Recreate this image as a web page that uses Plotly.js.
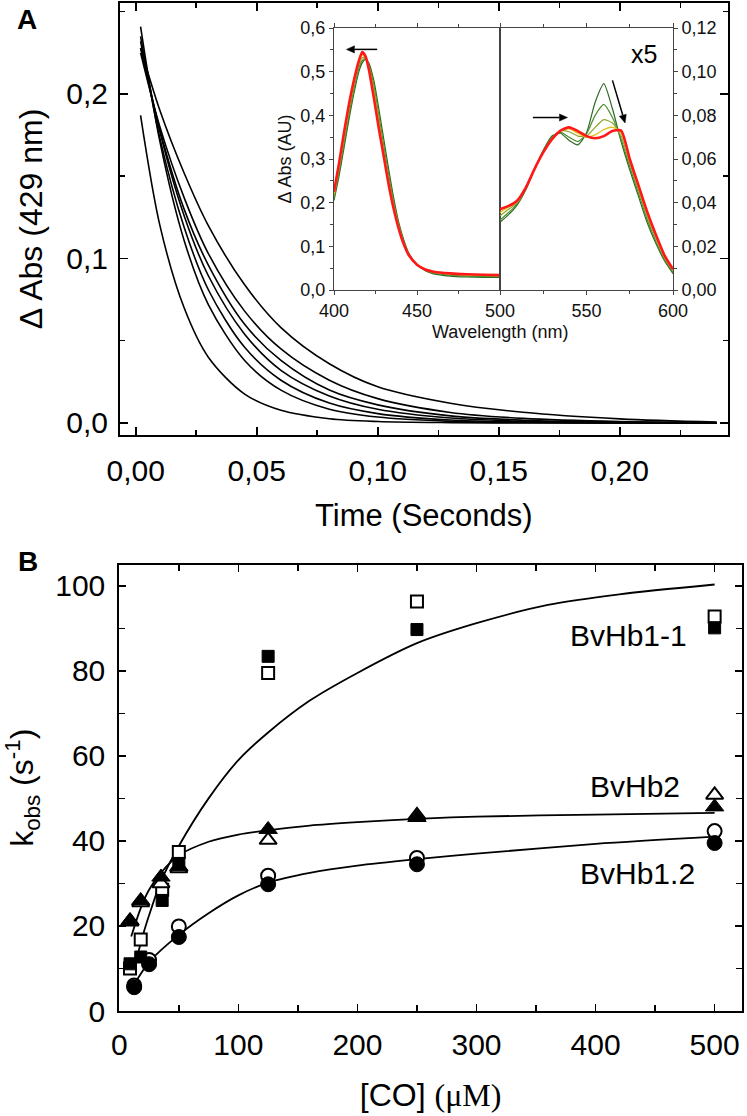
<!DOCTYPE html>
<html><head><meta charset="utf-8">
<script src="https://cdn.plot.ly/plotly-3.0.1.min.js"></script>
<style>html,body{margin:0;padding:0;background:#fff}#chart{width:747px;height:1116px}</style>
</head><body><div id="chart"></div>
<script>
// ---------- Panel A: absorbance decays at 429 nm ----------
const decayTime = [0.002, 0.01, 0.02, 0.03, 0.045, 0.06, 0.08, 0.1, 0.13, 0.16, 0.2, 0.24];
const decay1 = [0.228, 0.190, 0.152, 0.120, 0.084, 0.058, 0.036, 0.022, 0.012, 0.0065, 0.0025, 0.0005];
const decay2 = [0.225, 0.180, 0.137, 0.103, 0.068, 0.045, 0.026, 0.0148, 0.0064, 0.0028, 0.0009, 0.0003];
const decay3 = [0.228, 0.178, 0.130, 0.096, 0.060, 0.038, 0.020, 0.011, 0.0043, 0.0017, 0.0005, 0.0001];
const decay4 = [0.232, 0.177, 0.126, 0.0895, 0.054, 0.032, 0.0164, 0.0083, 0.003, 0.0011, 0.0003, 0];
const decay5 = [0.235, 0.173, 0.119, 0.081, 0.046, 0.026, 0.0121, 0.0057, 0.0018, 0.0006, 0.0002, 0];
const decay6 = [0.241, 0.171, 0.111, 0.072, 0.038, 0.020, 0.0084, 0.0036, 0.001, 0.0003, 0, 0];
const decay7 = [0.187, 0.120, 0.070, 0.040, 0.0176, 0.0077, 0.0026, 0.0009, 0.0002, 0, 0, 0];

// ---------- Inset: spectra, Soret region (left axis) ----------
const soretNm = [400, 403, 406, 409, 412, 415, 417, 419, 421, 424, 427, 430, 433, 436, 439, 442, 445, 450, 455, 460, 470, 480, 490, 500];
const soretDarkGreen = [0.205, 0.26, 0.325, 0.39, 0.45, 0.50, 0.52, 0.528, 0.52, 0.48, 0.415, 0.345, 0.275, 0.21, 0.155, 0.115, 0.085, 0.058, 0.044, 0.037, 0.032, 0.030, 0.029, 0.029];
const soretGreen = [0.21, 0.27, 0.335, 0.40, 0.46, 0.508, 0.525, 0.53, 0.515, 0.47, 0.40, 0.33, 0.263, 0.20, 0.15, 0.111, 0.083, 0.058, 0.045, 0.039, 0.034, 0.032, 0.031, 0.031];
const soretOlive = [0.215, 0.278, 0.345, 0.41, 0.468, 0.515, 0.532, 0.532, 0.512, 0.46, 0.39, 0.32, 0.253, 0.195, 0.146, 0.109, 0.082, 0.058, 0.046, 0.040, 0.036, 0.034, 0.033, 0.032];
const soretYellow = [0.22, 0.285, 0.352, 0.418, 0.474, 0.52, 0.538, 0.533, 0.508, 0.45, 0.38, 0.312, 0.246, 0.19, 0.143, 0.107, 0.081, 0.058, 0.0465, 0.041, 0.037, 0.035, 0.034, 0.033];
const soretRed = [0.225, 0.29, 0.36, 0.425, 0.48, 0.525, 0.545, 0.535, 0.505, 0.44, 0.37, 0.305, 0.24, 0.185, 0.14, 0.105, 0.08, 0.058, 0.047, 0.042, 0.038, 0.036, 0.035, 0.034];

// ---------- Inset: spectra, Q-band region (right axis, x5) ----------
const qNm = [500, 505, 510, 515, 520, 525, 530, 535, 540, 545, 550, 555, 560, 565, 570, 575, 580, 585, 590, 595, 600];
const qDarkGreen = [0.031, 0.0345, 0.039, 0.046, 0.0555, 0.064, 0.0705, 0.0718, 0.0685, 0.0665, 0.072, 0.086, 0.0945, 0.083, 0.068, 0.055, 0.043, 0.031, 0.0215, 0.0135, 0.0075];
const qGreen = [0.032, 0.0355, 0.0395, 0.0465, 0.0555, 0.0635, 0.070, 0.0722, 0.070, 0.068, 0.0715, 0.080, 0.085, 0.079, 0.069, 0.0565, 0.0445, 0.0325, 0.0225, 0.014, 0.008];
const qOlive = [0.034, 0.037, 0.040, 0.047, 0.0555, 0.0632, 0.0695, 0.0728, 0.0725, 0.0705, 0.0705, 0.0745, 0.078, 0.0765, 0.0705, 0.058, 0.046, 0.034, 0.024, 0.015, 0.0088];
const qYellow = [0.0355, 0.038, 0.0405, 0.047, 0.0555, 0.063, 0.069, 0.073, 0.0738, 0.0718, 0.070, 0.071, 0.0735, 0.0745, 0.0722, 0.0592, 0.0472, 0.0352, 0.025, 0.0155, 0.0092];
const qRed = [0.037, 0.0385, 0.041, 0.047, 0.0555, 0.063, 0.069, 0.073, 0.0745, 0.0728, 0.0705, 0.0695, 0.0705, 0.0728, 0.073, 0.060, 0.048, 0.036, 0.0255, 0.016, 0.0095];

// ---------- Panel B: kobs vs [CO] ----------
const coSq = [9, 18, 36, 50, 125, 250, 500];
const hb11Filled = [11.1, 12.7, 26, 34.7, 83.4, 89.7, 90.1];
const hb11Open = [10, 16.8, 28.5, 37.4, 79.5, 96.3, 92.8];
const coTri = [9, 18, 35, 50, 125, 250, 500];
const hb2Filled = [21.3, 26, 31.5, 34, 42.7, 45.5, 48];
const hb2Open = [21, 25.5, 30, 33.5, 40.2, 46, 50.8];
const coCirc = [12.5, 25, 50, 125, 250, 500];
const hb12Filled = [5.6, 11, 17.4, 29.8, 34.5, 39.5];
const hb12Open = [6, 12, 19.9, 31.8, 36, 42.3];

const fit11X = [12, 18, 25, 35, 50, 75, 100, 125, 160, 200, 250, 300, 360, 420, 500];
const fit11Y = [9, 16, 22.5, 30.5, 38.8, 50, 59, 65.5, 73, 79.5, 86.5, 91.2, 95.5, 98, 100.3];
const fit2X = [10, 18, 25, 35, 50, 75, 100, 125, 160, 200, 250, 300, 400, 500];
const fit2Y = [17.5, 24.2, 28.5, 32.5, 36.6, 39.8, 41.5, 42.5, 43.6, 44.4, 45.2, 45.7, 46.2, 46.6];
const fit12X = [12, 25, 50, 75, 100, 125, 160, 200, 250, 300, 400, 500];
const fit12Y = [6, 11.5, 17.9, 23, 27.2, 30.2, 32.5, 34.2, 35.7, 37, 39.3, 41];

const speciesLabels = ['BvHb1-1', 'BvHb2', 'BvHb1.2'];

// arrows in the inset: tail -> head, in data units (nm, absorbance) of each sub-panel
const soretArrow = {tail: [426, 0.551], head: [407.5, 0.551]};
const qArrowH = {tail: [519, 0.079], head: [539, 0.079]};
const qArrowD = {tail: [565, 0.096], head: [572.3, 0.0765]};

// ---------- build ----------
const W = 747, H = 1116;
const px = v => v / W;
const py = v => 1 - v / H;
const FONT = 'Liberation Sans, Arial, sans-serif';

// inset frame (pixels)
const IN_L = 334, IN_M = 500, IN_R = 673, IN_T = 28, IN_B = 290;
const soretRange = [400, 500], qRange = [500, 600];
const leftY = [0, 0.6], rightY = [0, 0.12];
const sPix = (nm, v) => [IN_L + (nm - soretRange[0]) / (soretRange[1] - soretRange[0]) * (IN_M - IN_L),
                         IN_B - (v - leftY[0]) / (leftY[1] - leftY[0]) * (IN_B - IN_T)];
const qPix = (nm, v) => [IN_M + (nm - qRange[0]) / (qRange[1] - qRange[0]) * (IN_R - IN_M),
                         IN_B - (v - rightY[0]) / (rightY[1] - rightY[0]) * (IN_B - IN_T)];

function arrowShapes(t, h) {
  const dx = h[0] - t[0], dy = h[1] - t[1];
  const L = Math.hypot(dx, dy), ux = dx / L, uy = dy / L;
  const back = 8, half = 3.6;
  const bx = h[0] - ux * back, by = h[1] - uy * back;
  const p1 = [bx - uy * half, by + ux * half], p2 = [bx + uy * half, by - ux * half];
  return [
    {type: 'line', xref: 'paper', yref: 'paper', x0: px(t[0]), y0: py(t[1]), x1: px(bx), y1: py(by), line: {color: '#000', width: 1.5}},
    {type: 'path', xref: 'paper', yref: 'paper', fillcolor: '#000', line: {color: '#000', width: 0.5},
     path: `M ${px(h[0])} ${py(h[1])} L ${px(p1[0])} ${py(p1[1])} L ${px(p2[0])} ${py(p2[1])} Z`}
  ];
}

const traces = [];
[decay1, decay2, decay3, decay4, decay5, decay6, decay7].forEach((d) => {
  traces.push({x: decayTime, y: d, type: 'scatter', mode: 'lines', xaxis: 'x', yaxis: 'y',
    line: {color: '#000', width: 1.6, shape: 'spline', smoothing: 0.9}, showlegend: false, hoverinfo: 'skip'});
});

const specColors = ['#2d6a22', '#4a8c2c', '#8ea52a', '#e2c21e', '#ff1818'];
const specWidths = [1.2, 1.2, 1.2, 1.4, 2.6];
[soretDarkGreen, soretGreen, soretOlive, soretYellow, soretRed].forEach((d, i) => {
  traces.push({x: soretNm, y: d, type: 'scatter', mode: 'lines', xaxis: 'x3', yaxis: 'y3',
    line: {color: specColors[i], width: specWidths[i], shape: 'spline', smoothing: 0.6}, showlegend: false, hoverinfo: 'skip'});
});
[qDarkGreen, qGreen, qOlive, qYellow, qRed].forEach((d, i) => {
  traces.push({x: qNm, y: d, type: 'scatter', mode: 'lines', xaxis: 'x4', yaxis: 'y4',
    line: {color: specColors[i], width: specWidths[i], shape: 'spline', smoothing: 0.6}, showlegend: false, hoverinfo: 'skip'});
});

[[fit11X, fit11Y], [fit2X, fit2Y], [fit12X, fit12Y]].forEach(([fx, fy]) => {
  traces.push({x: fx, y: fy, type: 'scatter', mode: 'lines', xaxis: 'x2', yaxis: 'y2',
    line: {color: '#000', width: 1.8, shape: 'spline', smoothing: 0.8}, showlegend: false, hoverinfo: 'skip'});
});
const openM = (sym, size) => ({symbol: sym, size: size, color: '#fff', line: {color: '#000', width: 2}});
const fillM = (sym, size) => ({symbol: sym, size: size, color: '#000', line: {color: '#000', width: 1}});
traces.push({x: coSq, y: hb11Open, type: 'scatter', mode: 'markers', xaxis: 'x2', yaxis: 'y2', marker: openM('square', 12), name: speciesLabels[0] + ' open', showlegend: false});
traces.push({x: coTri, y: hb2Open, type: 'scatter', mode: 'markers', xaxis: 'x2', yaxis: 'y2', marker: openM('triangle-up', 15), name: speciesLabels[1] + ' open', showlegend: false});
traces.push({x: coCirc, y: hb12Open, type: 'scatter', mode: 'markers', xaxis: 'x2', yaxis: 'y2', marker: openM('circle', 14), name: speciesLabels[2] + ' open', showlegend: false});
traces.push({x: coSq, y: hb11Filled, type: 'scatter', mode: 'markers', xaxis: 'x2', yaxis: 'y2', marker: fillM('square', 12), name: speciesLabels[0], showlegend: false});
traces.push({x: coTri, y: hb2Filled, type: 'scatter', mode: 'markers', xaxis: 'x2', yaxis: 'y2', marker: fillM('triangle-up', 16), name: speciesLabels[1], showlegend: false});
traces.push({x: coCirc, y: hb12Filled, type: 'scatter', mode: 'markers', xaxis: 'x2', yaxis: 'y2', marker: fillM('circle', 15), name: speciesLabels[2], showlegend: false});

const mainAxis = {
  showgrid: false, zeroline: false, showline: true, linecolor: '#000', linewidth: 2, mirror: 'ticks',
  ticks: 'inside', ticklen: 8, tickwidth: 1.6, tickcolor: '#000',
  tickfont: {family: FONT, size: 30, color: '#000'}
};
const insetAxis = {
  showgrid: false, zeroline: false, showline: true, linecolor: '#444', linewidth: 1,
  ticks: 'outside', ticklen: 4, tickwidth: 1, tickcolor: '#444',
  tickfont: {family: FONT, size: 18, color: '#111'}
};

const shapes = [].concat(
  arrowShapes(sPix(...soretArrow.tail), sPix(...soretArrow.head)),
  arrowShapes(qPix(...qArrowH.tail), qPix(...qArrowH.head)),
  arrowShapes(qPix(...qArrowD.tail), qPix(...qArrowD.head))
);

const ann = (text, x, y, size, extra) => Object.assign({text: text, xref: 'paper', yref: 'paper', x: px(x), y: py(y),
  xanchor: 'center', yanchor: 'middle', showarrow: false, font: {family: FONT, size: size, color: '#000'}}, extra || {});

const layout = {
  width: W, height: H, margin: {l: 0, r: 0, t: 0, b: 0},
  paper_bgcolor: '#fff', plot_bgcolor: 'rgba(0,0,0,0)',
  separators: ',.', showlegend: false,
  font: {family: FONT, color: '#000'},
  xaxis: Object.assign({}, mainAxis, {
    domain: [px(120), px(727.7)], range: [-0.0065, 0.2446], anchor: 'y',
    tick0: 0, dtick: 0.05, tickformat: '.2f', ticklabelstandoff: 8,
    minor: {dtick: 0.025, tick0: 0, ticks: 'inside', ticklen: 5, tickwidth: 1.5, tickcolor: '#000'},
    title: {text: 'Time (Seconds)', font: {family: FONT, size: 31}, standoff: 18}
  }),
  yaxis: Object.assign({}, mainAxis, {
    domain: [py(435), py(3)], range: [-0.0073, 0.2553], anchor: 'x',
    tick0: 0, dtick: 0.1, tickformat: '.1f', ticklabelstandoff: 4,
    minor: {dtick: 0.05, tick0: 0, ticks: 'inside', ticklen: 5, tickwidth: 1.5, tickcolor: '#000'},
    title: {text: 'Δ Abs (429 nm)', font: {family: FONT, size: 32}, standoff: 14}
  }),
  xaxis2: Object.assign({}, mainAxis, {
    domain: [px(119.3), px(742)], range: [0, 523], anchor: 'y2',
    tick0: 0, dtick: 100, ticklen: 7, ticklabelstandoff: 6,
    minor: {dtick: 50, tick0: 0, ticks: 'inside', ticklen: 6, tickwidth: 1.5, tickcolor: '#000'},
    title: {text: '[CO] <span style="font-family:Liberation Serif">(μM)</span>', font: {family: 'Liberation Sans Narrow, Liberation Sans, sans-serif', size: 32}, standoff: 24}
  }),
  yaxis2: Object.assign({}, mainAxis, {
    domain: [py(1011), py(564.5)], range: [0, 105], anchor: 'x2',
    tick0: 0, dtick: 20, ticklen: 7, ticklabelstandoff: 6,
    minor: {dtick: 10, tick0: 0, ticks: 'inside', ticklen: 6, tickwidth: 1.5, tickcolor: '#000'},
    title: {text: 'k<sub>obs</sub> (s<sup>-1</sup>)', font: {family: FONT, size: 32}, standoff: 14}
  }),
  xaxis3: Object.assign({}, insetAxis, {
    domain: [px(IN_L), px(IN_M)], range: soretRange, anchor: 'y3', mirror: 'ticks',
    tick0: 400, dtick: 50,
    minor: {dtick: 25, tick0: 400, ticks: 'outside', ticklen: 3, tickwidth: 1, tickcolor: '#444'}
  }),
  yaxis3: Object.assign({}, insetAxis, {
    domain: [py(IN_B), py(IN_T)], range: leftY, anchor: 'x3', mirror: true,
    tick0: 0, dtick: 0.1, tickformat: '.1f',
    minor: {dtick: 0.05, tick0: 0, ticks: 'outside', ticklen: 3, tickwidth: 1, tickcolor: '#444'},
    title: {text: 'Δ Abs (AU)', font: {family: FONT, size: 18, color: '#111'}, standoff: 4}
  }),
  xaxis4: Object.assign({}, insetAxis, {
    domain: [px(IN_M), px(IN_R)], range: qRange, anchor: 'y4', mirror: 'ticks',
    tickvals: [550, 600],
    minor: {dtick: 25, tick0: 500, ticks: 'outside', ticklen: 3, tickwidth: 1, tickcolor: '#444'}
  }),
  yaxis4: Object.assign({}, insetAxis, {
    domain: [py(IN_B), py(IN_T)], range: rightY, anchor: 'x4', side: 'right', mirror: true,
    tick0: 0, dtick: 0.02, tickformat: '.2f',
    minor: {dtick: 0.01, tick0: 0, ticks: 'outside', ticklen: 3, tickwidth: 1, tickcolor: '#444'}
  }),
  shapes: shapes,
  annotations: [
    ann('<b>A</b>', 27, 20, 28),
    ann('<b>B</b>', 28, 561, 28),
    ann('Wavelength (nm)', 500, 332, 18, {font: {family: FONT, size: 18, color: '#111'}}),
    ann('x5', 644, 54, 25),
    ann(speciesLabels[0], 628, 635, 30),
    ann(speciesLabels[1], 635, 786, 30),
    ann(speciesLabels[2], 637, 873, 30)
  ]
};

Plotly.newPlot('chart', traces, layout, {staticPlot: true, displayModeBar: false});
</script>
</body></html>
